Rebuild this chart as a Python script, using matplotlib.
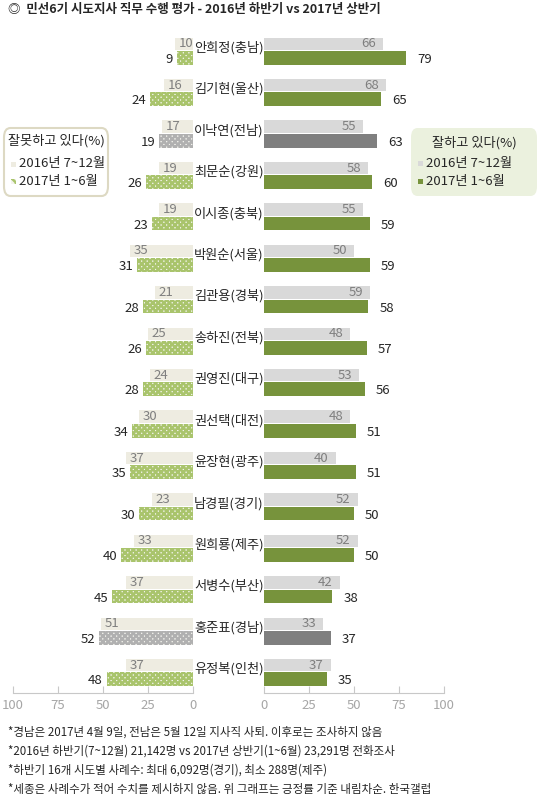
import matplotlib
matplotlib.use("Agg")
import matplotlib.pyplot as plt
from matplotlib.patches import FancyBboxPatch, Rectangle
import numpy as np

plt.rcParams['font.family'] = ['Noto Sans CJK KR', 'DejaVu Sans']
plt.rcParams['hatch.linewidth'] = 1.8

names = ['안희정(충남)','김기현(울산)','이낙연(전남)','최문순(강원)','이시종(충북)','박원순(서울)',
         '김관용(경북)','송하진(전북)','권영진(대구)','권선택(대전)','윤장현(광주)','남경필(경기)',
         '원희룡(제주)','서병수(부산)','홍준표(경남)','유정복(인천)']
neg_2016 = [10,16,17,19,19,35,21,25,24,30,37,23,33,37,51,37]
neg_2017 = [9,24,19,26,23,31,28,26,28,34,35,30,40,45,52,48]
pos_2016 = [66,68,55,58,55,50,59,48,53,48,40,52,52,42,33,37]
pos_2017 = [79,65,63,60,59,59,58,57,56,51,51,50,50,38,37,35]
resigned = ['이낙연(전남)','홍준표(경남)']
ticks = [0,25,50,75,100]

fig = plt.figure(figsize=(5.41,7.97), dpi=100)
W, H = 541, 797
top, bot = 28, 693
axL = fig.add_axes([13/W, 1-bot/H, 180/W, (bot-top)/H])
axR = fig.add_axes([264/W, 1-bot/H, 180/W, (bot-top)/H])
n = len(names)
off = 0.17
for ax in (axL, axR):
    ax.set_ylim(n-0.5, -0.55)
    ax.set_xlim(0,100)
    for s in ['top','right','left']:
        ax.spines[s].set_visible(False)
    ax.spines['bottom'].set_color('#c8c8c8')
    ax.set_yticks([])
    ax.set_xticks(ticks)
    ax.tick_params(axis='x', colors='#c8c8c8', labelcolor='#a6a6a6', labelsize=9.5, length=5, direction='in', pad=4)
axL.invert_xaxis()

for i, nm in enumerate(names):
    res = nm in resigned
    axL.barh(i-off, neg_2016[i], height=0.3, color='#eeece1', edgecolor='none')
    hc = '#b0b0b0' if res else '#a9c46c'
    axL.barh(i+off, neg_2017[i], height=0.33, color='#f4f4ee', edgecolor=hc, hatch='xxxxxx', linewidth=0)
    axL.text(neg_2016[i]-2, i-off, str(neg_2016[i]), ha='left', va='center', fontsize=9.5, color='#7f7f7f')
    axL.text(neg_2017[i]+2, i+off+0.04, str(neg_2017[i]), ha='right', va='center', fontsize=9.5, color='#262626')
    axR.barh(i-off, pos_2016[i], height=0.3, color='#d9d9d9', edgecolor='none')
    axR.barh(i+off, pos_2017[i], height=0.33, color='#7f7f7f' if res else '#77933c', edgecolor='none')
    axR.text(pos_2016[i]-4, i-off, str(pos_2016[i]), ha='right', va='center', fontsize=9.5, color='#7f7f7f')
    axR.text(pos_2017[i]+6, i+off+0.04, str(pos_2017[i]), ha='left', va='center', fontsize=9.5, color='#262626')
    yc = 1 - (top + (i+0.55)/(n+0.05)*(bot-top))/H
    fig.text(229/W, yc + 0.004, nm, ha='center', va='center', fontsize=9.5, color='#262626')

fig.text(8/W, 1-9/H, '◎  민선6기 시도지사 직무 수행 평가 - 2016년 하반기 vs 2017년 상반기',
         ha='left', va='center', fontsize=9, fontweight='bold', color='#262626')

bl = FancyBboxPatch((4/W, 1-196/H), 104/W, 68/H, boxstyle='round,pad=0,rounding_size=0.012',
                    transform=fig.transFigure, facecolor='white', edgecolor='#ddd9c3', linewidth=1.5)
fig.patches.append(bl)
fig.text(56/W, 1-141/H, '잘못하고 있다(%)', ha='center', va='center', fontsize=9.5, color='#262626')
fig.patches.append(Rectangle((11/W, 1-167/H), 5/W, 5/H, transform=fig.transFigure, facecolor='#eeece1', edgecolor='none'))
fig.text(19/W, 1-164/H, '2016년 7~12월', ha='left', va='center', fontsize=9.5, color='#262626')
fig.patches.append(Rectangle((11/W, 1-184/H), 5/W, 5/H, transform=fig.transFigure, facecolor='#f4f4ee', edgecolor='#a9c46c', hatch='xxx', linewidth=0))
fig.text(19/W, 1-181/H, '2017년 1~6월', ha='left', va='center', fontsize=9.5, color='#262626')

br = FancyBboxPatch((411/W, 1-196/H), 126/W, 68/H, boxstyle='round,pad=0,rounding_size=0.012',
                    transform=fig.transFigure, facecolor='#ebf1de', edgecolor='none')
fig.patches.append(br)
fig.text(474/W, 1-143/H, '잘하고 있다(%)', ha='center', va='center', fontsize=9.5, color='#262626')
fig.patches.append(Rectangle((418/W, 1-166/H), 5/W, 5/H, transform=fig.transFigure, facecolor='#d9d9d9', edgecolor='none'))
fig.text(426/W, 1-163/H, '2016년 7~12월', ha='left', va='center', fontsize=9.5, color='#262626')
fig.patches.append(Rectangle((418/W, 1-184/H), 5/W, 5/H, transform=fig.transFigure, facecolor='#77933c', edgecolor='none'))
fig.text(426/W, 1-181/H, '2017년 1~6월', ha='left', va='center', fontsize=9.5, color='#262626')

notes = ['*경남은 2017년 4월 9일, 전남은 5월 12일 지사직 사퇴. 이후로는 조사하지 않음',
         '*2016년 하반기(7~12월) 21,142명 vs 2017년 상반기(1~6월) 23,291명 전화조사',
         '*하반기 16개 시도별 사례수: 최대 6,092명(경기), 최소 288명(제주)',
         '*세종은 사례수가 적어 수치를 제시하지 않음. 위 그래프는 긍정률 기준 내림차순. 한국갤럽']
for k, t in enumerate(notes):
    fig.text(8/W, 1-(732+k*19)/H, t, ha='left', va='center', fontsize=8.3, color='#262626')

fig.savefig('out.png', dpi=100)
